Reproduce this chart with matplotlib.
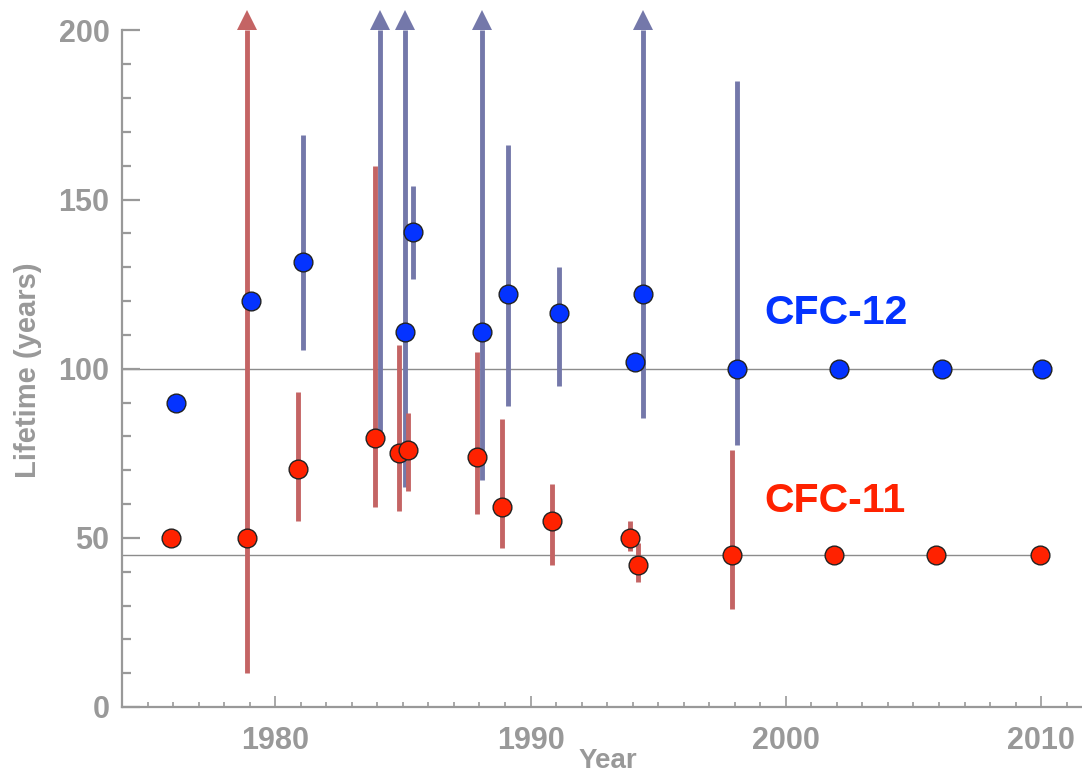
import numpy as np
import matplotlib
matplotlib.use("Agg")
import matplotlib.pyplot as plt
from matplotlib.ticker import MultipleLocator

plt.rcParams["font.family"] = ["Liberation Sans", "DejaVu Sans"]

# CFC-11 lifetime estimates (year, best value, lower / upper bound, inf = open upper bound)
cfc11_years = [1975.9, 1978.9, 1980.9, 1983.9, 1984.85, 1985.2, 1987.9, 1988.9,
               1990.85, 1993.9, 1994.2, 1997.9, 2001.9, 2005.9, 2009.95]
cfc11_life = [50, 50, 70.5, 79.5, 75, 76, 74, 59, 55, 50, 42, 45, 45, 45, 45]
cfc11_low = [np.nan, 10, 55, 59, 58, 64, 57, 47, 42, 46, 37, 29, np.nan, np.nan, np.nan]
cfc11_high = [np.nan, np.inf, 93, 160, 107, 87, 105, 85, 66, 55, 48.5, 76, np.nan, np.nan, np.nan]

# CFC-12 lifetime estimates
cfc12_years = [1976.1, 1979.05, 1981.1, 1985.1, 1985.4, 1988.1, 1989.1, 1991.1,
               1994.1, 1994.4, 1998.1, 2002.1, 2006.1, 2010.05]
cfc12_life = [90, 120, 131.5, 111, 140.5, 111, 122, 116.5, 102, 122, 100, 100, 100, 100]
cfc12_low = [np.nan, np.nan, 105.5, 65, 126.5, 67, 89, 95, np.nan, 85.5, 77.5, np.nan, np.nan, np.nan]
cfc12_high = [np.nan, np.nan, 169, np.inf, 154, np.inf, 166, 130, np.nan, np.inf, 185, np.nan, np.nan, np.nan]

# CFC-12 lower-bound only estimate (no central value shown)
cfc12_bound_years = [1984.1]
cfc12_bound_low = [81.5]

# recommended lifetimes
ref_lifetimes = [45, 100]

gray = "#999999"
red_bar = "#C46464"
blue_bar = "#7478AA"
red_dot = "#FF2200"
blue_dot = "#0433FF"
top = 200

fig = plt.figure(figsize=(10.82, 7.78), dpi=100)
ax = fig.add_axes([122 / 1082, 1 - 707 / 778, 1 - 122 / 1082, 707 / 778])

# reference lines
ax.hlines(ref_lifetimes, 1974, 2010, color="#8c8c8c", lw=1, zorder=1)


def draw_bars(years, low, high, color):
    for x, lo, hi in zip(years, low, high):
        if np.isnan(lo):
            continue
        if np.isinf(hi):
            ax.vlines(x, lo, top, color=color, lw=3.5, zorder=2)
            ax.plot(x, top + 3.2, marker="^", ms=14, color=color, mew=0, zorder=2)
        else:
            ax.vlines(x, lo, hi, color=color, lw=3.5, zorder=2)


# uncertainty ranges
draw_bars(cfc12_years, cfc12_low, cfc12_high, blue_bar)
draw_bars(cfc12_bound_years, cfc12_bound_low, [np.inf] * len(cfc12_bound_years), blue_bar)
draw_bars(cfc11_years, cfc11_low, cfc11_high, red_bar)

# central values
ax.plot(cfc12_years, cfc12_life, "o", ms=13.5, mfc=blue_dot, mec="#222222", mew=1, zorder=3)
ax.plot(cfc11_years, cfc11_life, "o", ms=13.5, mfc=red_dot, mec="#222222", mew=1, zorder=3)

ax.text(1999.15, 116.5, "CFC-12", color=blue_dot, fontsize=29.5, fontweight="bold", va="center")
ax.text(1999.15, 61, "CFC-11", color=red_dot, fontsize=29.5, fontweight="bold", va="center")

ax.set_xlim(1974, 2011.6)
ax.set_ylim(0, 209)

for side in ["top", "right"]:
    ax.spines[side].set_visible(False)
for side in ["left", "bottom"]:
    ax.spines[side].set_color(gray)
    ax.spines[side].set_linewidth(1.6)
ax.spines["left"].set_bounds(0, 200)

ax.xaxis.set_major_locator(MultipleLocator(10))
ax.xaxis.set_minor_locator(MultipleLocator(1))
ax.yaxis.set_major_locator(MultipleLocator(50))
ax.yaxis.set_minor_locator(MultipleLocator(10))
ax.tick_params(axis="x", which="major", direction="in", length=8, width=1.2, color=gray,
               labelsize=22, labelcolor=gray, pad=14)
ax.tick_params(axis="x", which="minor", direction="in", length=3.5, width=1.2, color=gray)
ax.tick_params(axis="y", which="major", direction="in", length=13, width=1.6, color=gray,
               labelsize=22, labelcolor=gray, pad=9)
ax.tick_params(axis="y", which="minor", direction="in", length=6.5, width=1.6, color=gray)
for lbl in ax.get_xticklabels() + ax.get_yticklabels():
    lbl.set_fontweight("bold")

ax.set_xlabel("Year", fontsize=20, fontweight="bold", color=gray)
ax.set_ylabel("Lifetime (years)", fontsize=21, fontweight="bold", color=gray)
ax.xaxis.set_label_coords(0.506, -0.058)
ax.yaxis.set_label_coords(-0.083, 0.477)

fig.savefig("out.png", dpi=100)
